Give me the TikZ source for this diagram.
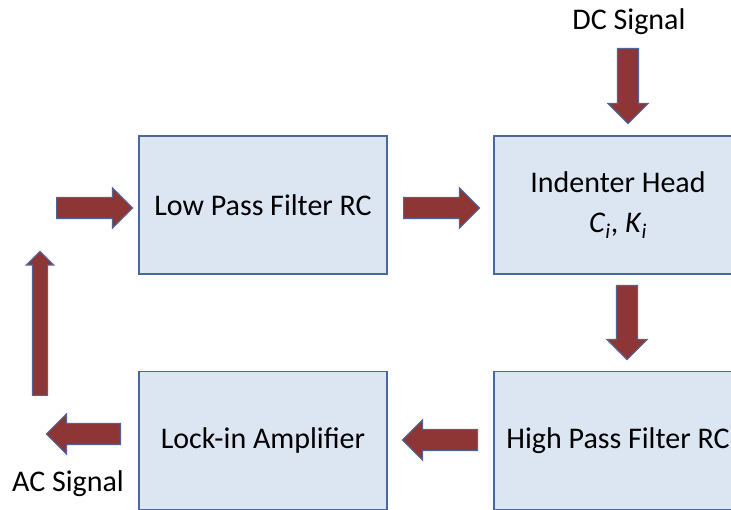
\documentclass[tikz,border=0pt]{standalone}
\usepackage{fontspec}
\setmainfont{Carlito}
\usetikzlibrary{shapes.arrows}
\definecolor{boxfill}{RGB}{220,229,242}
\definecolor{boxline}{RGB}{74,104,156}
\definecolor{arrowred}{RGB}{142,54,54}
\definecolor{arrowline}{RGB}{80,100,150}

\begin{document}
\begin{tikzpicture}[x=1pt,y=-1pt]
\useasboundingbox[fill=white] (0,0) rectangle (731,510);

\tikzstyle{block}=[rectangle, draw=boxline, fill=boxfill, line width=1.6pt,
    minimum width=248pt, minimum height=138pt,
    font=\fontsize{30}{40}\selectfont, align=center]
\tikzstyle{barrow}=[single arrow, draw=arrowline, fill=arrowred, line width=1.2pt,
    inner sep=0pt, inner ysep=10pt, minimum width=39pt,
    single arrow head extend=9.5pt, anchor=tail]
\tikzstyle{label}=[font=\fontsize{30}{36}\selectfont]

\node[block] (lpf) at (263,205) {Low Pass Filter RC};
\node[block] (head) at (618,205)
    {Indenter Head\\ \textit{C}\textsubscript{\textit{i}}, \textit{K}\textsubscript{\textit{i}}};
\node[block] (lock) at (263,440.5) {Lock-in Amplifier};
\node[block] (hpf) at (618,440.5) {High Pass Filter RC};

\node[label] (dc) at (629,22) {DC Signal};
\node[label] (ac) at (68,484) {AC Signal};

\node[barrow, minimum height=76pt] (a1) at (56,208) {};
\node[barrow, minimum height=76pt] (a2) at (403,208) {};
\node[barrow, minimum height=75pt, rotate=-90] (a3) at (628,48) {};
\node[barrow, minimum height=74pt, rotate=-90] (a4) at (627,285) {};
\node[barrow, minimum height=75pt, rotate=180] (a5) at (478,440) {};
\node[barrow, minimum height=74pt, rotate=180] (a6) at (121,434) {};
\node[barrow, minimum height=144pt, rotate=90, inner ysep=7pt,
    minimum width=26pt, single arrow head extend=6pt] (a7) at (40,396) {};
\end{tikzpicture}
\end{document}
